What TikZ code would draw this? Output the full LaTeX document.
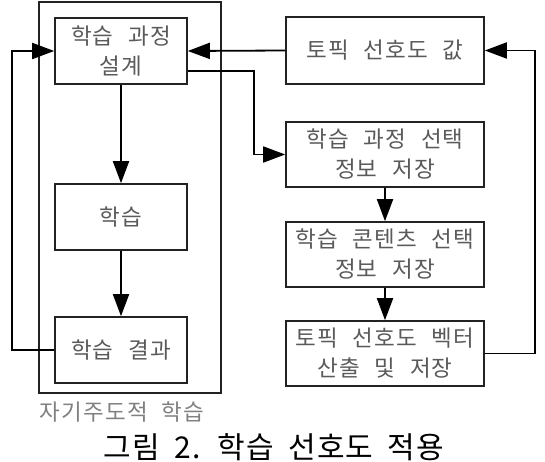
\documentclass[tikz,border=0pt]{standalone}
\usepackage{fontspec}
\newfontfamily\krbox{Noto Sans CJK KR}[LetterSpace=5,WordSpace=2.4]
\newfontfamily\krlbl{Noto Sans CJK KR}[LetterSpace=6,WordSpace=2]
\newfontfamily\krcap{Noto Sans CJK KR}[LetterSpace=4,WordSpace=1.8]
\usetikzlibrary{arrows.meta}
\definecolor{boxtext}{HTML}{5A5A5A}
\definecolor{lbltext}{HTML}{808080}
\definecolor{linec}{HTML}{222222}
\tikzset{
  flowbox/.style={draw=linec, line width=1.6pt, rectangle, align=center,
    text=boxtext, font=\krbox\fontsize{22.5}{30}\selectfont, inner sep=0pt},
  leftbox/.style={flowbox, minimum width=132pt, minimum height=66pt},
  rightbox/.style={flowbox, minimum width=198pt, minimum height=65pt},
  flowarrow/.style={draw=black, line width=1.8pt, -{Triangle[length=22pt,width=16pt]}}
}
\begin{document}
\begin{tikzpicture}[x=1pt,y=-1pt]
\useasboundingbox (0,0) rectangle (545,462);
\node[draw=linec, line width=1.2pt, minimum width=182pt, minimum height=391pt, inner sep=0pt] (outer) at (130,197.5) {};
\node[leftbox] (b1) at (121,51) {학습 과정\\설계};
\node[leftbox] (b2) at (121,217) {학습};
\node[leftbox] (b3) at (121,350) {학습 결과};
\node[rightbox, minimum height=67pt] (b4) at (385,50.5) {토픽 선호도 값};
\node[rightbox] (b5) at (385,154.5) {학습 과정 선택\\정보 저장};
\node[rightbox] (b6) at (385,254.5) {학습 콘텐츠 선택\\정보 저장};
\node[rightbox] (b7) at (385,353.5) {토픽 선호도 벡터\\산출 및 저장};
\node[text=lbltext, font=\krlbl\fontsize{22.5}{24}\selectfont, anchor=center] (lbl) at (122,412) {자기주도적 학습};
\node[text=black, font=\krcap\fontsize{30}{32}\selectfont, anchor=center] (cap) at (274,447) {그림 2. 학습 선호도 적용};
\draw[flowarrow] (b1) -- (b2);
\draw[flowarrow] (b2) -- (b3);
\draw[flowarrow] (b3.west) -- ++(-42,0) |- (b1.west);
\draw[flowarrow] (b4.west) -- (b1.east);
\draw[flowarrow] ([yshift=-20pt]b1.east) -- ++(66,0) |- (b5.west);
\draw[flowarrow] (b5) -- (b6);
\draw[flowarrow] (b6) -- (b7);
\draw[flowarrow] (b7.east) -- ++(50,0) |- (b4.east);
\end{tikzpicture}
\end{document}
